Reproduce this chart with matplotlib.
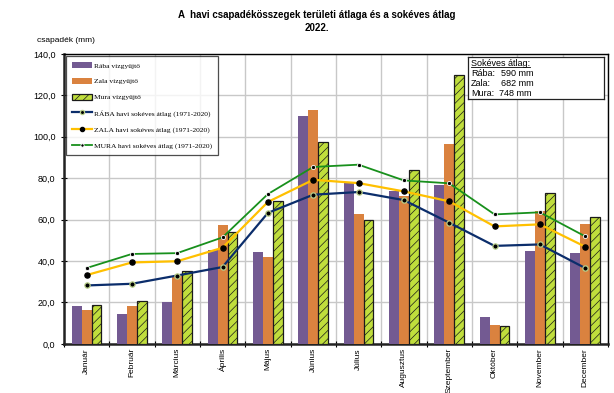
import numpy as np
import matplotlib
matplotlib.use("Agg")
import matplotlib.pyplot as plt
from matplotlib.ticker import FuncFormatter, MultipleLocator

plt.rcParams["font.family"] = ["Liberation Sans", "DejaVu Sans"]
plt.rcParams["hatch.color"] = "#93b824"
plt.rcParams["hatch.linewidth"] = 0.5

months = ["Január", "Február", "Március", "Április", "Május", "Június",
          "Július", "Augusztus", "Szeptember", "Október", "November", "December"]

raba = [18.5, 14.5, 20.3, 45.3, 44.5, 110.0, 77.8, 74.0, 76.8, 13.0, 45.0, 43.8]
zala = [16.2, 18.5, 33.0, 57.2, 42.0, 112.8, 62.6, 71.5, 96.5, 9.3, 64.0, 58.1]
mura = [18.7, 20.7, 35.2, 53.8, 69.0, 97.3, 59.7, 83.8, 129.8, 8.5, 72.8, 61.3]

raba_avg = [28.2, 29.0, 33.0, 37.1, 63.2, 72.0, 73.3, 69.4, 58.5, 47.3, 48.0, 36.6]
zala_avg = [33.2, 39.3, 39.9, 46.4, 68.5, 79.2, 77.6, 73.6, 68.8, 56.7, 57.7, 46.9]
mura_avg = [36.6, 43.4, 43.8, 51.4, 72.3, 85.4, 86.5, 78.9, 77.5, 62.5, 63.5, 51.9]

avg_labels = ["Rába:", "Zala:", "Mura:"]
avg_values = ["590 mm", "682 mm", "748 mm"]

fig = plt.figure(figsize=(6.14, 3.93), dpi=100)
ax = fig.add_axes([0.104, 0.125, 0.886, 0.738])

x = np.arange(len(months))
w = 0.22

b1 = ax.bar(x - w, raba, w, color="#735a92", label="Rába vízgyűjtő", zorder=3)
b2 = ax.bar(x, zala, w, color="#da823f", label="Zala vízgyűjtő", zorder=3)
b3 = ax.bar(x + w, mura, w, color="#c0de3c", edgecolor="#1a1a1a", linewidth=0.9,
            hatch="////", label="Mura vízgyűjtő", zorder=3)

l1, = ax.plot(x, raba_avg, color="#0b2d6b", lw=1.6, marker="o", ms=3.8,
              mfc="black", mec="#b9cf8a", mew=0.9, zorder=5,
              label="RÁBA havi sokéves átlag (1971-2020)")
l2, = ax.plot(x, zala_avg, color="#ffc000", lw=1.6, marker="o", ms=3.7,
              mfc="black", mec="black", zorder=5,
              label="ZALA havi sokéves átlag (1971-2020)")
l3, = ax.plot(x, mura_avg, color="#18901c", lw=1.3, marker="o", ms=3.0,
              mfc="black", mec="white", mew=0.6, zorder=5,
              label="MURA havi sokéves átlag (1971-2020)")

ax.set_xlim(-0.5, len(months) - 0.5)
ax.set_ylim(0, 140)
ax.yaxis.set_major_locator(MultipleLocator(20))
ax.yaxis.set_major_formatter(FuncFormatter(lambda v, p: f"{v:.1f}".replace(".", ",")))

ax.set_xticks(np.arange(-0.5, len(months), 1))
ax.set_xticklabels([])
ax.set_xticks(x, minor=True)
ax.set_xticklabels(months, minor=True, rotation=90, fontsize=6)
ax.tick_params(axis="x", which="major", direction="inout", length=5, width=0.8)
ax.tick_params(axis="x", which="minor", length=0, pad=3)
ax.tick_params(axis="y", direction="inout", length=5, width=0.8, labelsize=6.5)

ax.grid(True, which="major", color="#c8c8c8", lw=1.0, zorder=0)
for s in ["left", "bottom"]:
    ax.spines[s].set_linewidth(1.8)
    ax.spines[s].set_color("#222222")
for s in ["top", "right"]:
    ax.spines[s].set_linewidth(1.0)

leg = ax.legend(handles=[b1, b2, b3, l1, l2, l3], loc="upper left",
                bbox_to_anchor=(0.0, 1.0),
                prop={"family": "Liberation Serif", "size": 5.4},
                frameon=True, fancybox=False, edgecolor="#222222",
                handlelength=2.6, handleheight=0.8, labelspacing=1.25,
                borderpad=0.8, handletextpad=0.3, borderaxespad=0.3,
                markerscale=0.8)
leg.get_frame().set_linewidth(0.9)
leg.set_zorder(10)

# Sokéves átlag box
box_ax = fig.add_axes([0.763, 0.748, 0.22, 0.107])
box_ax.set_xticks([])
box_ax.set_yticks([])
box_ax.set_xlim(0, 1)
box_ax.set_ylim(0, 1)
for s in box_ax.spines.values():
    s.set_linewidth(0.9)
    s.set_color("#222222")
t = box_ax.text(0.02, 0.84, "Sokéves átlag:", fontsize=6.5, va="center")
for i, (lab, val) in enumerate(zip(avg_labels, avg_values)):
    yy = 0.6 - i * 0.24
    box_ax.text(0.02, yy, lab, fontsize=6.5, va="center")
    box_ax.text(0.485 if i != 2 else 0.465, yy, val, fontsize=6.5, va="center", ha="right")
fig.canvas.draw()
bb = t.get_window_extent().transformed(box_ax.transAxes.inverted())
box_ax.plot([bb.x0, bb.x1], [bb.y0 + 0.03, bb.y0 + 0.03], color="black", lw=0.6)

fig.text(0.516, 0.962, "A  havi csapadékösszegek területi átlaga és a sokéves átlag",
         ha="center", va="center", fontsize=7, fontweight="bold")
fig.text(0.516, 0.928, "2022.", ha="center", va="center", fontsize=7, fontweight="bold")
fig.text(0.06, 0.897, "csapadék (mm)", ha="left", va="center", fontsize=6)

fig.savefig("out.png", dpi=100)
